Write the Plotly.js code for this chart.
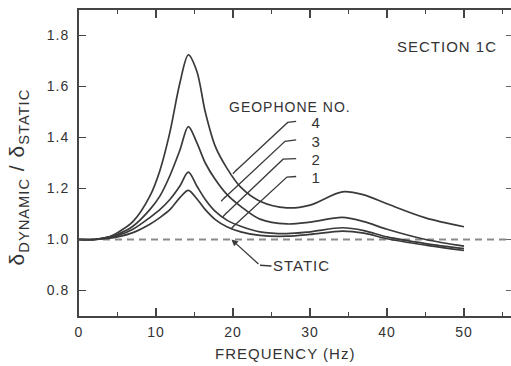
<!DOCTYPE html>
<html>
<head>
<meta charset="utf-8">
<script src="https://cdn.plot.ly/plotly-3.0.1.min.js"></script>
<style>
html,body{margin:0;padding:0;background:#fff;}
#chart{width:511px;height:366px;}
#chart svg text{letter-spacing:1px;}
</style>
</head>
<body>
<div id="chart"></div>
<script>
// Frequency (Hz)
var freq = [0, 2, 4, 5, 7, 9.2, 10.5, 11.8, 13.1, 14.2, 15.3, 16.4, 17.7, 19.2, 21, 23.5, 27, 30, 34.2, 37, 40, 45, 50];
// delta dynamic / delta static for each geophone
var geophone4 = [1.0, 1.0, 1.012, 1.027, 1.07, 1.17, 1.27, 1.42, 1.614, 1.724, 1.66, 1.50, 1.365, 1.28, 1.205, 1.15, 1.124, 1.135, 1.187, 1.175, 1.14, 1.085, 1.05];
var geophone3 = [1.0, 1.0, 1.01, 1.02, 1.052, 1.117, 1.17, 1.25, 1.35, 1.443, 1.38, 1.30, 1.235, 1.177, 1.13, 1.08, 1.061, 1.068, 1.087, 1.07, 1.04, 1.0, 0.974];
var geophone2 = [1.0, 1.0, 1.008, 1.015, 1.04, 1.086, 1.117, 1.157, 1.21, 1.264, 1.21, 1.157, 1.11, 1.076, 1.052, 1.03, 1.023, 1.03, 1.046, 1.035, 1.01, 0.984, 0.964];
var geophone1 = [1.0, 1.0, 1.005, 1.01, 1.027, 1.06, 1.086, 1.117, 1.164, 1.193, 1.16, 1.117, 1.078, 1.05, 1.03, 1.016, 1.013, 1.02, 1.033, 1.025, 1.003, 0.978, 0.957];
// static reference
var staticFreq = [0, 56.1];
var staticVal = [1.0, 1.0];

var xTicks = [0, 10, 20, 30, 40, 50];
var yTicks = [0.8, 1.0, 1.2, 1.4, 1.6, 1.8];
var yTickText = ['0.8', '1.0', '1.2', '1.4', '1.6', '1.8'];
var geophoneLabels = ['4', '3', '2', '1'];

var curveColor = '#3a3a3a';
var font = 'Liberation Sans, Arial, sans-serif';

function curve(y, name) {
  return {x: freq, y: y, mode: 'lines', name: name,
    line: {color: curveColor, width: 1.7, shape: 'spline', smoothing: 0.9},
    hoverinfo: 'skip', showlegend: false};
}

var traces = [
  {x: staticFreq, y: staticVal, mode: 'lines', line: {color: '#8a8a8a', width: 1.8, dash: '7px,5px'}, showlegend: false, hoverinfo: 'skip'},
  curve(geophone4, '4'), curve(geophone3, '3'), curve(geophone2, '2'), curve(geophone1, '1'),
  {x: [0], y: [1], yaxis: 'y2', mode: 'markers', marker: {opacity: 0}, showlegend: false, hoverinfo: 'skip'}
];

// leader lines (label -> curve), data coords
var leaders = [
  [[28.2, 1.463], [27.1, 1.459], [20.26, 1.267]],
  [[28.2, 1.391], [26.75, 1.385], [18.74, 1.159]],
  [[28.2, 1.317], [26.5, 1.315], [18.96, 1.098]],
  [[28.2, 1.247], [27.0, 1.245], [20.0, 1.05]]
];
var labelY = [1.458, 1.384, 1.313, 1.243];

var shapes = [];
var annotations = [];
leaders.forEach(function (pts, i) {
  var p = 'M' + pts[0][0] + ',' + pts[0][1] + ' L' + pts[1][0] + ',' + pts[1][1] + ' L' + pts[2][0] + ',' + pts[2][1];
  var e = pts[2];
  p += ' M' + (e[0] - 0.27) + ',' + (e[1] - 0.009) + ' L' + (e[0] + 0.27) + ',' + (e[1] + 0.009);
  shapes.push({type: 'path', xref: 'x', yref: 'y', path: p, line: {color: curveColor, width: 1.3}});
  annotations.push({x: 30.0, y: labelY[i], xref: 'x', yref: 'y', text: geophoneLabels[i], showarrow: false,
    xanchor: 'left', yanchor: 'middle', font: {family: font, size: 15, color: '#333'}});
});
// static leader
shapes.push({type: 'line', xref: 'x', yref: 'y', x0: 23.5, y0: 0.899, x1: 25.0, y1: 0.896, line: {color: curveColor, width: 1.3}});
annotations.push({x: 19.8, y: 1.0, ax: 23.5, ay: 0.899, axref: 'x', ayref: 'y', xref: 'x', yref: 'y', text: '',
  showarrow: true, arrowhead: 2, arrowsize: 1, arrowwidth: 1.3, arrowcolor: curveColor});
annotations.push({x: 25.3, y: 0.898, xref: 'x', yref: 'y', text: 'STATIC', showarrow: false, xanchor: 'left', yanchor: 'middle',
  font: {family: font, size: 15, color: '#333'}});
annotations.push({x: 27.4, y: 1.52, xref: 'x', yref: 'y', text: 'GEOPHONE NO.', showarrow: false, xanchor: 'center', yanchor: 'middle',
  font: {family: font, size: 14, color: '#333'}});
annotations.push({x: 47.8, y: 1.755, xref: 'x', yref: 'y', text: 'SECTION 1C', showarrow: false, xanchor: 'center', yanchor: 'middle',
  font: {family: font, size: 15, color: '#333'}});
// axis titles
annotations.push({x: 0.477, y: -0.124, xref: 'paper', yref: 'paper', text: 'FREQUENCY (Hz)', showarrow: false,
  xanchor: 'center', yanchor: 'middle', font: {family: font, size: 15, color: '#333'}});
annotations.push({x: -0.139, y: 0.456, xref: 'paper', yref: 'paper', text: 'δ<sub>DYNAMIC</sub> / δ<sub>STATIC</sub>', showarrow: false,
  textangle: -90, xanchor: 'center', yanchor: 'middle', font: {family: font, size: 21, color: '#333'}});

var layout = {
  width: 511, height: 366,
  margin: {l: 79, r: 0, t: 10, b: 50},
  paper_bgcolor: '#fff', plot_bgcolor: '#fff',
  font: {family: font, color: '#333', size: 14},
  xaxis: {range: [0, 56.1], tickvals: xTicks, ticks: 'inside', ticklen: 8, tickwidth: 1.5, tickcolor: '#444',
    showline: true, linewidth: 2, linecolor: '#444', mirror: 'ticks', showgrid: false, zeroline: false,
    minor: {dtick: 5, tick0: 0, ticks: 'inside', ticklen: 4, tickwidth: 1.5, tickcolor: '#444', showgrid: false},
    tickfont: {family: font, size: 14, color: '#333'}, ticklabelstandoff: 2},
  yaxis: {range: [0.7, 1.9], tickvals: yTicks, ticktext: yTickText, ticks: 'inside', ticklen: 7, tickwidth: 1.5, tickcolor: '#444',
    showline: true, linewidth: 2, linecolor: '#444', showgrid: false, zeroline: false,
    tickfont: {family: font, size: 14, color: '#333'}, ticklabelstandoff: 5},
  yaxis2: {range: [0.7, 1.9], overlaying: 'y', side: 'right', anchor: 'x', tickvals: yTicks, ticks: 'inside', ticklen: 5,
    tickwidth: 1.5, tickcolor: '#666', showticklabels: false, showline: false, showgrid: false, zeroline: false},
  shapes: shapes,
  annotations: annotations,
  showlegend: false
};

Plotly.newPlot('chart', traces, layout, {staticPlot: true, displayModeBar: false});
</script>
</body>
</html>
